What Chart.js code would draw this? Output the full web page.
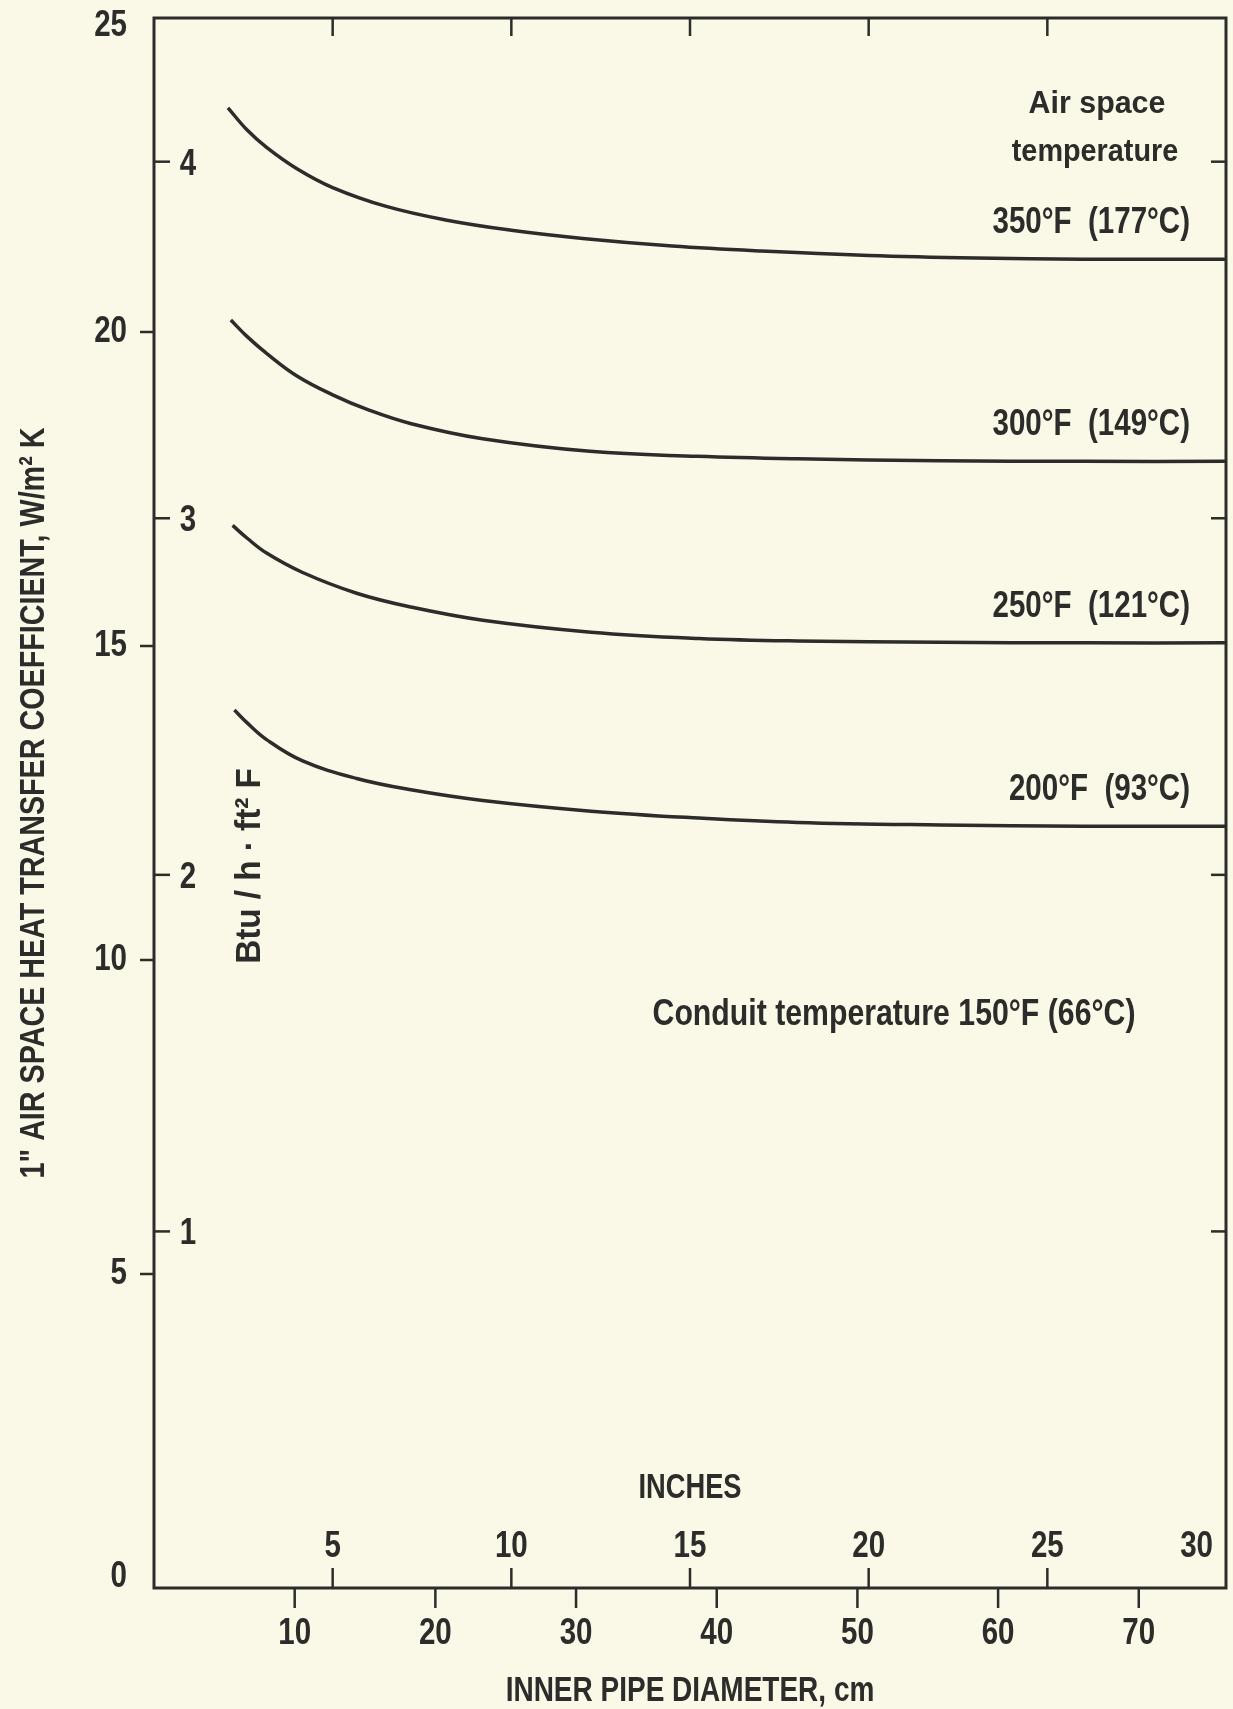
<!DOCTYPE html>
<html>
<head>
<meta charset="utf-8">
<script src="https://cdn.jsdelivr.net/npm/chart.js@4.4.1/dist/chart.umd.min.js"></script>
<style>
  html, body { margin: 0; padding: 0; background: #faf8e7; }
  #wrap { width: 1233px; height: 1709px; position: relative; }
</style>
</head>
<body>
<div id="wrap"><canvas id="chart"></canvas></div>
<script>
// Inner pipe diameter (inches) and air space coefficient (W/m2 K)
const diam350 = [2.07, 2.6, 3.15, 4.0, 5.0, 6.5, 8.2, 10.0, 12.0, 14.5, 17.0, 20.0, 23.0, 26.0, 30.0];
const coef350 = [23.57, 23.22, 22.94, 22.6, 22.3, 22.0, 21.78, 21.62, 21.49, 21.37, 21.29, 21.22, 21.18, 21.16, 21.16];

const diam300 = [2.15, 2.6, 3.15, 4.0, 5.0, 6.0, 7.2, 9.2, 12.2, 15.2, 18.0, 22.0, 26.0, 30.0];
const coef300 = [20.19, 19.93, 19.66, 19.3, 19.0, 18.76, 18.54, 18.3, 18.1, 18.02, 17.98, 17.95, 17.94, 17.94];

const diam250 = [2.2, 2.6, 3.15, 4.16, 5.67, 7.19, 9.2, 12.23, 15.25, 18.0, 22.0, 26.0, 30.0];
const coef250 = [16.92, 16.72, 16.48, 16.17, 15.84, 15.62, 15.41, 15.22, 15.12, 15.08, 15.06, 15.05, 15.05];

const diam200 = [2.25, 2.6, 3.15, 4.16, 5.67, 7.19, 9.2, 12.23, 15.25, 18.0, 22.0, 26.0, 30.0];
const coef200 = [13.98, 13.78, 13.51, 13.17, 12.89, 12.71, 12.54, 12.37, 12.26, 12.19, 12.15, 12.13, 12.13];

const curveLabels = ['350°F  (177°C)', '300°F  (149°C)', '250°F  (121°C)', '200°F  (93°C)'];

// tick values
const wTicks = [0, 5, 10, 15, 20, 25];
const btuTicks = [1, 2, 3, 4];
const inchTicks = [5, 10, 15, 20, 25, 30];
const topInchTicks = [5, 10, 15, 20, 25];
const cmTicks = [10, 20, 30, 40, 50, 60, 70];

const BTU_TO_W = 5.678;
const CM_PER_INCH = 2.54;

const INK = '#2c2c2a';
const FONT = '"Liberation Sans", Arial, sans-serif';
const NARROW = 0.82; // the figure uses a condensed face

function toPoints(xs, ys) {
    return xs.map((v, i) => ({ x: v, y: ys[i] }));
}

function txt(ctx, s, px, py, size, align, rot, sx) {
    ctx.save();
    ctx.translate(px, py);
    if (rot) ctx.rotate(rot);
    ctx.scale(sx || NARROW, 1);
    ctx.font = 'bold ' + size + 'px ' + FONT;
    ctx.textAlign = align || 'center';
    ctx.textBaseline = 'middle';
    ctx.fillStyle = INK;
    ctx.fillText(s, 0, 0);
    ctx.restore();
}

function line(ctx, x1, y1, x2, y2) {
    ctx.beginPath();
    ctx.moveTo(x1, y1);
    ctx.lineTo(x2, y2);
    ctx.stroke();
}

const decorations = {
    id: 'decorations',
    afterDatasetsDraw(chart) {
        const { ctx, chartArea: a, scales: { x, y } } = chart;
        ctx.save();
        ctx.strokeStyle = INK;
        ctx.lineWidth = 3;
        ctx.strokeRect(a.left, a.top, a.right - a.left, a.bottom - a.top);

        ctx.lineWidth = 2.5;
        // W/m2K ticks outside left
        wTicks.forEach(v => {
            const py = y.getPixelForValue(v);
            if (v > 0 && v < 25) line(ctx, a.left - 14, py, a.left, py);
            const ly = Math.min(Math.max(py, a.top + 8), a.bottom - 11);
            txt(ctx, String(v), a.left - 27, ly, 36, 'right');
        });
        // Btu ticks inside left and right
        btuTicks.forEach(b => {
            const py = y.getPixelForValue(b * BTU_TO_W);
            line(ctx, a.left, py, a.left + 16, py);
            line(ctx, a.right - 15, py, a.right, py);
            txt(ctx, String(b), a.left + 34, py + 3, 36, 'center');
        });
        // top inch ticks
        topInchTicks.forEach(i => {
            const px = x.getPixelForValue(i);
            line(ctx, px, a.top, px, a.top + 18);
        });
        // bottom inch ticks and labels
        inchTicks.forEach(i => {
            const px = x.getPixelForValue(i);
            if (i < 30) {
                line(ctx, px, a.bottom, px, a.bottom - 20);
                txt(ctx, String(i), px, a.bottom - 41, 36, 'center');
            } else {
                txt(ctx, String(i), a.right - 13, a.bottom - 41, 36, 'right');
            }
        });
        txt(ctx, 'INCHES', x.getPixelForValue(15), a.bottom - 100, 35, 'center', 0, 0.78);
        // cm ticks and labels
        cmTicks.forEach(c => {
            const px = x.getPixelForValue(c / CM_PER_INCH);
            line(ctx, px, a.bottom, px, a.bottom + 20);
            txt(ctx, String(c), px, a.bottom + 46, 36, 'center');
        });
        txt(ctx, 'INNER PIPE DIAMETER, cm', x.getPixelForValue(15), a.bottom + 103, 35, 'center', 0, 0.8);

        // axis titles
        txt(ctx, '1" AIR SPACE HEAT TRANSFER COEFFICIENT, W/m\u00B2 K', 34, (a.top + a.bottom) / 2, 35, 'center', -Math.PI / 2);
        txt(ctx, 'Btu / h \u00B7 ft\u00B2 F', a.left + 96, 866, 35, 'center', -Math.PI / 2, 0.95);

        // curve labels
        const ends = [coef350, coef300, coef250, coef200].map(c => c[c.length - 1]);
        curveLabels.forEach((s, i) => {
            txt(ctx, s, a.right - 36, y.getPixelForValue(ends[i]) - 36, 36, 'right');
        });
        txt(ctx, 'Air space', a.right - 129, 104, 32, 'center', 0, 0.95);
        txt(ctx, 'temperature', a.right - 131, 152, 32, 'center', 0, 0.9);
        txt(ctx, 'Conduit temperature 150°F (66°C)', 894, 1015, 36, 'center', 0, 0.84);
        ctx.restore();
    }
};

function series(xs, ys) {
    return {
        data: toPoints(xs, ys),
        borderColor: INK,
        borderWidth: 3.5,
        pointRadius: 0,
        tension: 0.4,
        fill: false
    };
}

new Chart(document.getElementById('chart').getContext('2d'), {
    type: 'line',
    data: {
        datasets: [
            series(diam350, coef350),
            series(diam300, coef300),
            series(diam250, coef250),
            series(diam200, coef200)
        ]
    },
    options: {
        responsive: true,
        maintainAspectRatio: false,
        animation: false,
        layout: { padding: { left: 154, top: 18, right: 7, bottom: 121 } },
        plugins: { legend: { display: false }, tooltip: { enabled: false } },
        scales: {
            x: { type: 'linear', min: 0, max: 30, display: false },
            y: { type: 'linear', min: 0, max: 25, display: false }
        }
    },
    plugins: [decorations]
});
</script>
</body>
</html>
